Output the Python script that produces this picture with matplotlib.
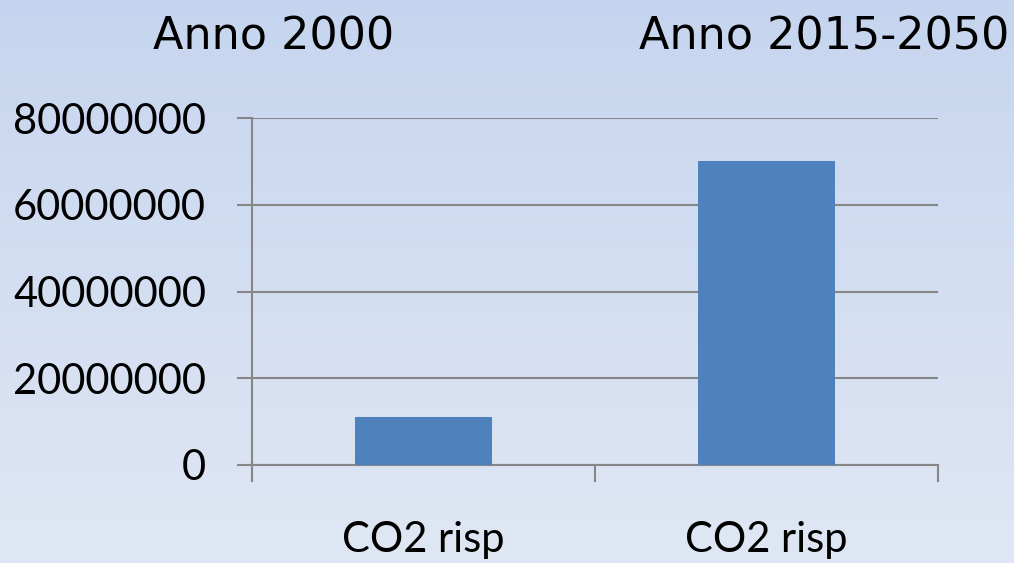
import matplotlib
matplotlib.use("Agg")
import matplotlib.pyplot as plt
import numpy as np
from matplotlib.colors import LinearSegmentedColormap

categories = ["CO2 risp", "CO2 risp"]
values = [11000000, 70000000]
titles = ["Anno 2000", "Anno 2015-2050"]
yticks = [0, 20000000, 40000000, 60000000, 80000000]

fig = plt.figure(figsize=(10.14, 5.63), dpi=100)

# gradient background
bg = fig.add_axes([0, 0, 1, 1], zorder=-10)
cmap = LinearSegmentedColormap.from_list("bg", ["#c6d5ef", "#e0e7f4"])
grad = np.linspace(0, 1, 256).reshape(-1, 1)
bg.imshow(grad, aspect="auto", cmap=cmap, extent=[0, 1, 1, 0])
bg.set_axis_off()

ax = fig.add_axes([252/1014, 1-465/563, (938-252)/1014, (465-118)/563])
ax.set_facecolor("none")
gc = "#868686"
x = np.arange(len(values))
ax.bar(x, values, width=0.4, color="#4f81bd", zorder=3)
ax.set_xlim(-0.5, 1.5)
ax.set_ylim(0, 80000000)
ax.set_yticks(yticks)
ax.set_yticklabels([str(v) for v in yticks])
ax.yaxis.grid(True, color=gc, linewidth=1.5)
ax.set_axisbelow(True)
for s in ["top", "right"]:
    ax.spines[s].set_visible(False)
for s in ["left", "bottom"]:
    ax.spines[s].set_color(gc)
    ax.spines[s].set_linewidth(1.5)
ax.tick_params(axis="y", direction="out", length=11, width=1.5, color=gc,
               labelsize=30, pad=22, labelcolor="black")
ax.set_xticks([-0.5, 0.5, 1.5])
ax.set_xticklabels(["", "", ""])
ax.tick_params(axis="x", which="major", direction="out", length=12, width=1.5, color=gc)
ax.set_xticks(x, minor=True)
ax.set_xticklabels(categories, minor=True)
ax.tick_params(axis="x", which="minor", length=0, labelsize=30, pad=40, labelcolor="black")
for lab in ax.get_yticklabels() + ax.get_xticklabels(minor=True):
    lab.set_fontfamily("Lato")

fig.text(274/1014, 1-37/563, titles[0], ha="center", va="center", fontsize=32,
         family="DejaVu Sans", color="black")
fig.text(824/1014, 1-37/563, titles[1], ha="center", va="center", fontsize=32,
         family="DejaVu Sans", color="black")

fig.savefig("out.png", dpi=100)
